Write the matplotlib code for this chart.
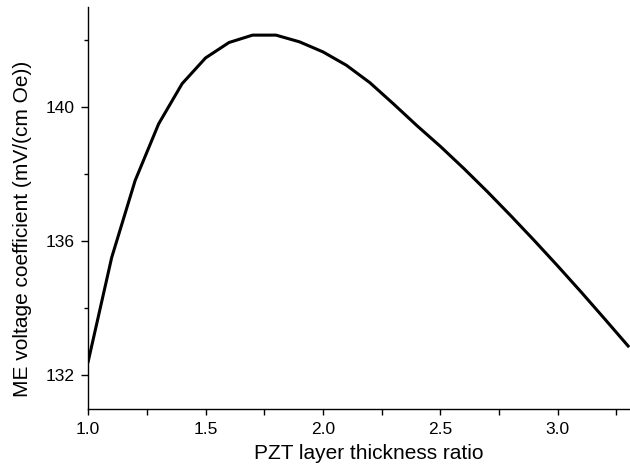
import matplotlib.pyplot as plt
import numpy as np

# PZT layer thickness ratio vs ME voltage coefficient
ratio = [1.0, 1.1, 1.2, 1.3, 1.4, 1.5, 1.6, 1.7, 1.8, 1.9, 2.0, 2.1, 2.2,
         2.3, 2.4, 2.5, 2.6, 2.7, 2.8, 2.9, 3.0, 3.1, 3.2, 3.3]
coef = [132.42, 135.52, 137.82, 139.51, 140.71, 141.48, 141.94, 142.16,
        142.16, 141.96, 141.66, 141.26, 140.74, 140.11, 139.46, 138.84,
        138.18, 137.49, 136.77, 136.03, 135.27, 134.49, 133.69, 132.88]

plt.rcParams['font.family'] = ['Liberation Sans', 'DejaVu Sans']

fig = plt.figure(figsize=(6.3, 4.72), dpi=100)
ax = fig.add_axes([0.140, 0.1335, 0.860, 0.8517])

ax.plot(ratio, coef, color='black', linewidth=2.2)

ax.set_xlim(1.0, 3.308)
ax.set_ylim(131, 143)
ax.set_xticks([1.0, 1.5, 2.0, 2.5, 3.0])
ax.set_xticks([1.25, 1.75, 2.25, 2.75, 3.25], minor=True)
ax.set_yticks([132, 136, 140])
ax.set_yticks([134, 138, 142], minor=True)

ax.spines['top'].set_visible(False)
ax.spines['right'].set_visible(False)
for s in ['left', 'bottom']:
    ax.spines[s].set_linewidth(1.0)

ax.tick_params(which='both', direction='out', width=1.0, labelsize=12.5, pad=4.5)
ax.tick_params(axis='x', pad=5.5)
ax.tick_params(axis='y', which='major', length=5)
ax.tick_params(axis='y', which='minor', length=3)
ax.tick_params(axis='x', which='both', length=4)

ax.set_xlabel('PZT layer thickness ratio', fontsize=15)
ax.set_ylabel('ME voltage coefficient (mV/(cm Oe))', fontsize=15)
ax.xaxis.set_label_coords(0.518, -0.088)
ax.yaxis.set_label_coords(-0.103, 0.448)

plt.savefig('out.png', dpi=100)
